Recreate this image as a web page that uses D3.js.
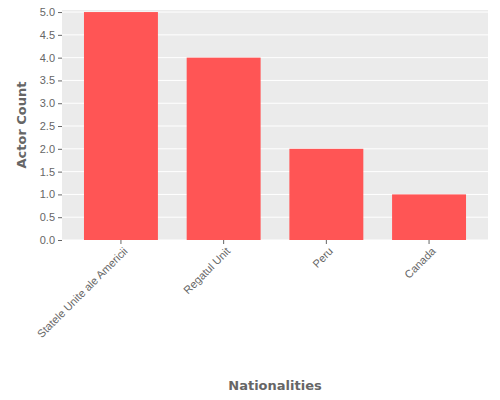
<!DOCTYPE html>
<html><head><meta charset="utf-8">
<script src="https://cdn.jsdelivr.net/npm/d3@7"></script>
<style>body{margin:0;background:#fff}</style>
</head><body>
<script>
var categories = ['Statele Unite ale Americii', 'Regatul Unit', 'Peru', 'Canada'];
var counts = [5, 4, 2, 1];
var yTicks = [0, 0.5, 1, 1.5, 2, 2.5, 3, 3.5, 4, 4.5, 5];

var w = 500, h = 400;
var plotLeft = 62, plotRight = 488, plotTop = 10, plotBottom = 240;
var svg = d3.select('body').append('svg').attr('width', w).attr('height', h)
  .style('font-family', 'DejaVu Sans, sans-serif');

var x = d3.scaleBand().domain(categories).range([plotLeft, plotRight])
  .paddingInner(0.28).paddingOuter(0.214);
var y = d3.scaleLinear().domain([0, 5.045]).range([plotBottom, plotTop]);

svg.append('rect').attr('x', plotLeft).attr('y', plotTop)
  .attr('width', plotRight - plotLeft).attr('height', plotBottom - plotTop).attr('fill', '#ebebeb');

svg.selectAll('line.grid').data(yTicks).enter().append('line')
  .attr('class', 'grid')
  .attr('x1', plotLeft).attr('x2', plotRight)
  .attr('y1', function(d){ return y(d); }).attr('y2', function(d){ return y(d); })
  .attr('stroke', '#fff').attr('stroke-width', 1);

svg.selectAll('rect.bar').data(counts).enter().append('rect')
  .attr('class', 'bar')
  .attr('x', function(d, i){ return x(categories[i]); })
  .attr('y', function(d){ return y(d); })
  .attr('width', x.bandwidth())
  .attr('height', function(d){ return y(0) - y(d); })
  .attr('fill', '#ff5555');

var yAxis = svg.append('g').attr('transform', 'translate(' + plotLeft + ',0)')
  .call(d3.axisLeft(y).tickValues(yTicks).tickFormat(d3.format('.1f')).tickSize(4));
yAxis.select('.domain').remove();
yAxis.selectAll('line').attr('stroke', '#666');
yAxis.selectAll('text').attr('fill', '#666').style('font-size', '11px');

var xAxis = svg.append('g').attr('transform', 'translate(0,' + plotBottom + ')')
  .call(d3.axisBottom(x).tickSize(4));
xAxis.select('.domain').remove();
xAxis.selectAll('line').attr('stroke', '#666');
xAxis.selectAll('text').attr('fill', '#666').style('font-size', '11px')
  .attr('text-anchor', 'end').attr('dx', '-0.3em').attr('dy', '0.6em')
  .attr('transform', 'rotate(-45)');

svg.append('text').attr('x', 275).attr('y', 390).attr('text-anchor', 'middle')
  .attr('fill', '#666').style('font-size', '13px').style('font-weight', 'bold').text('Nationalities');
svg.append('text').attr('transform', 'translate(26,125) rotate(-90)').attr('text-anchor', 'middle')
  .attr('fill', '#666').style('font-size', '13px').style('font-weight', 'bold').text('Actor Count');
</script>
</body></html>
